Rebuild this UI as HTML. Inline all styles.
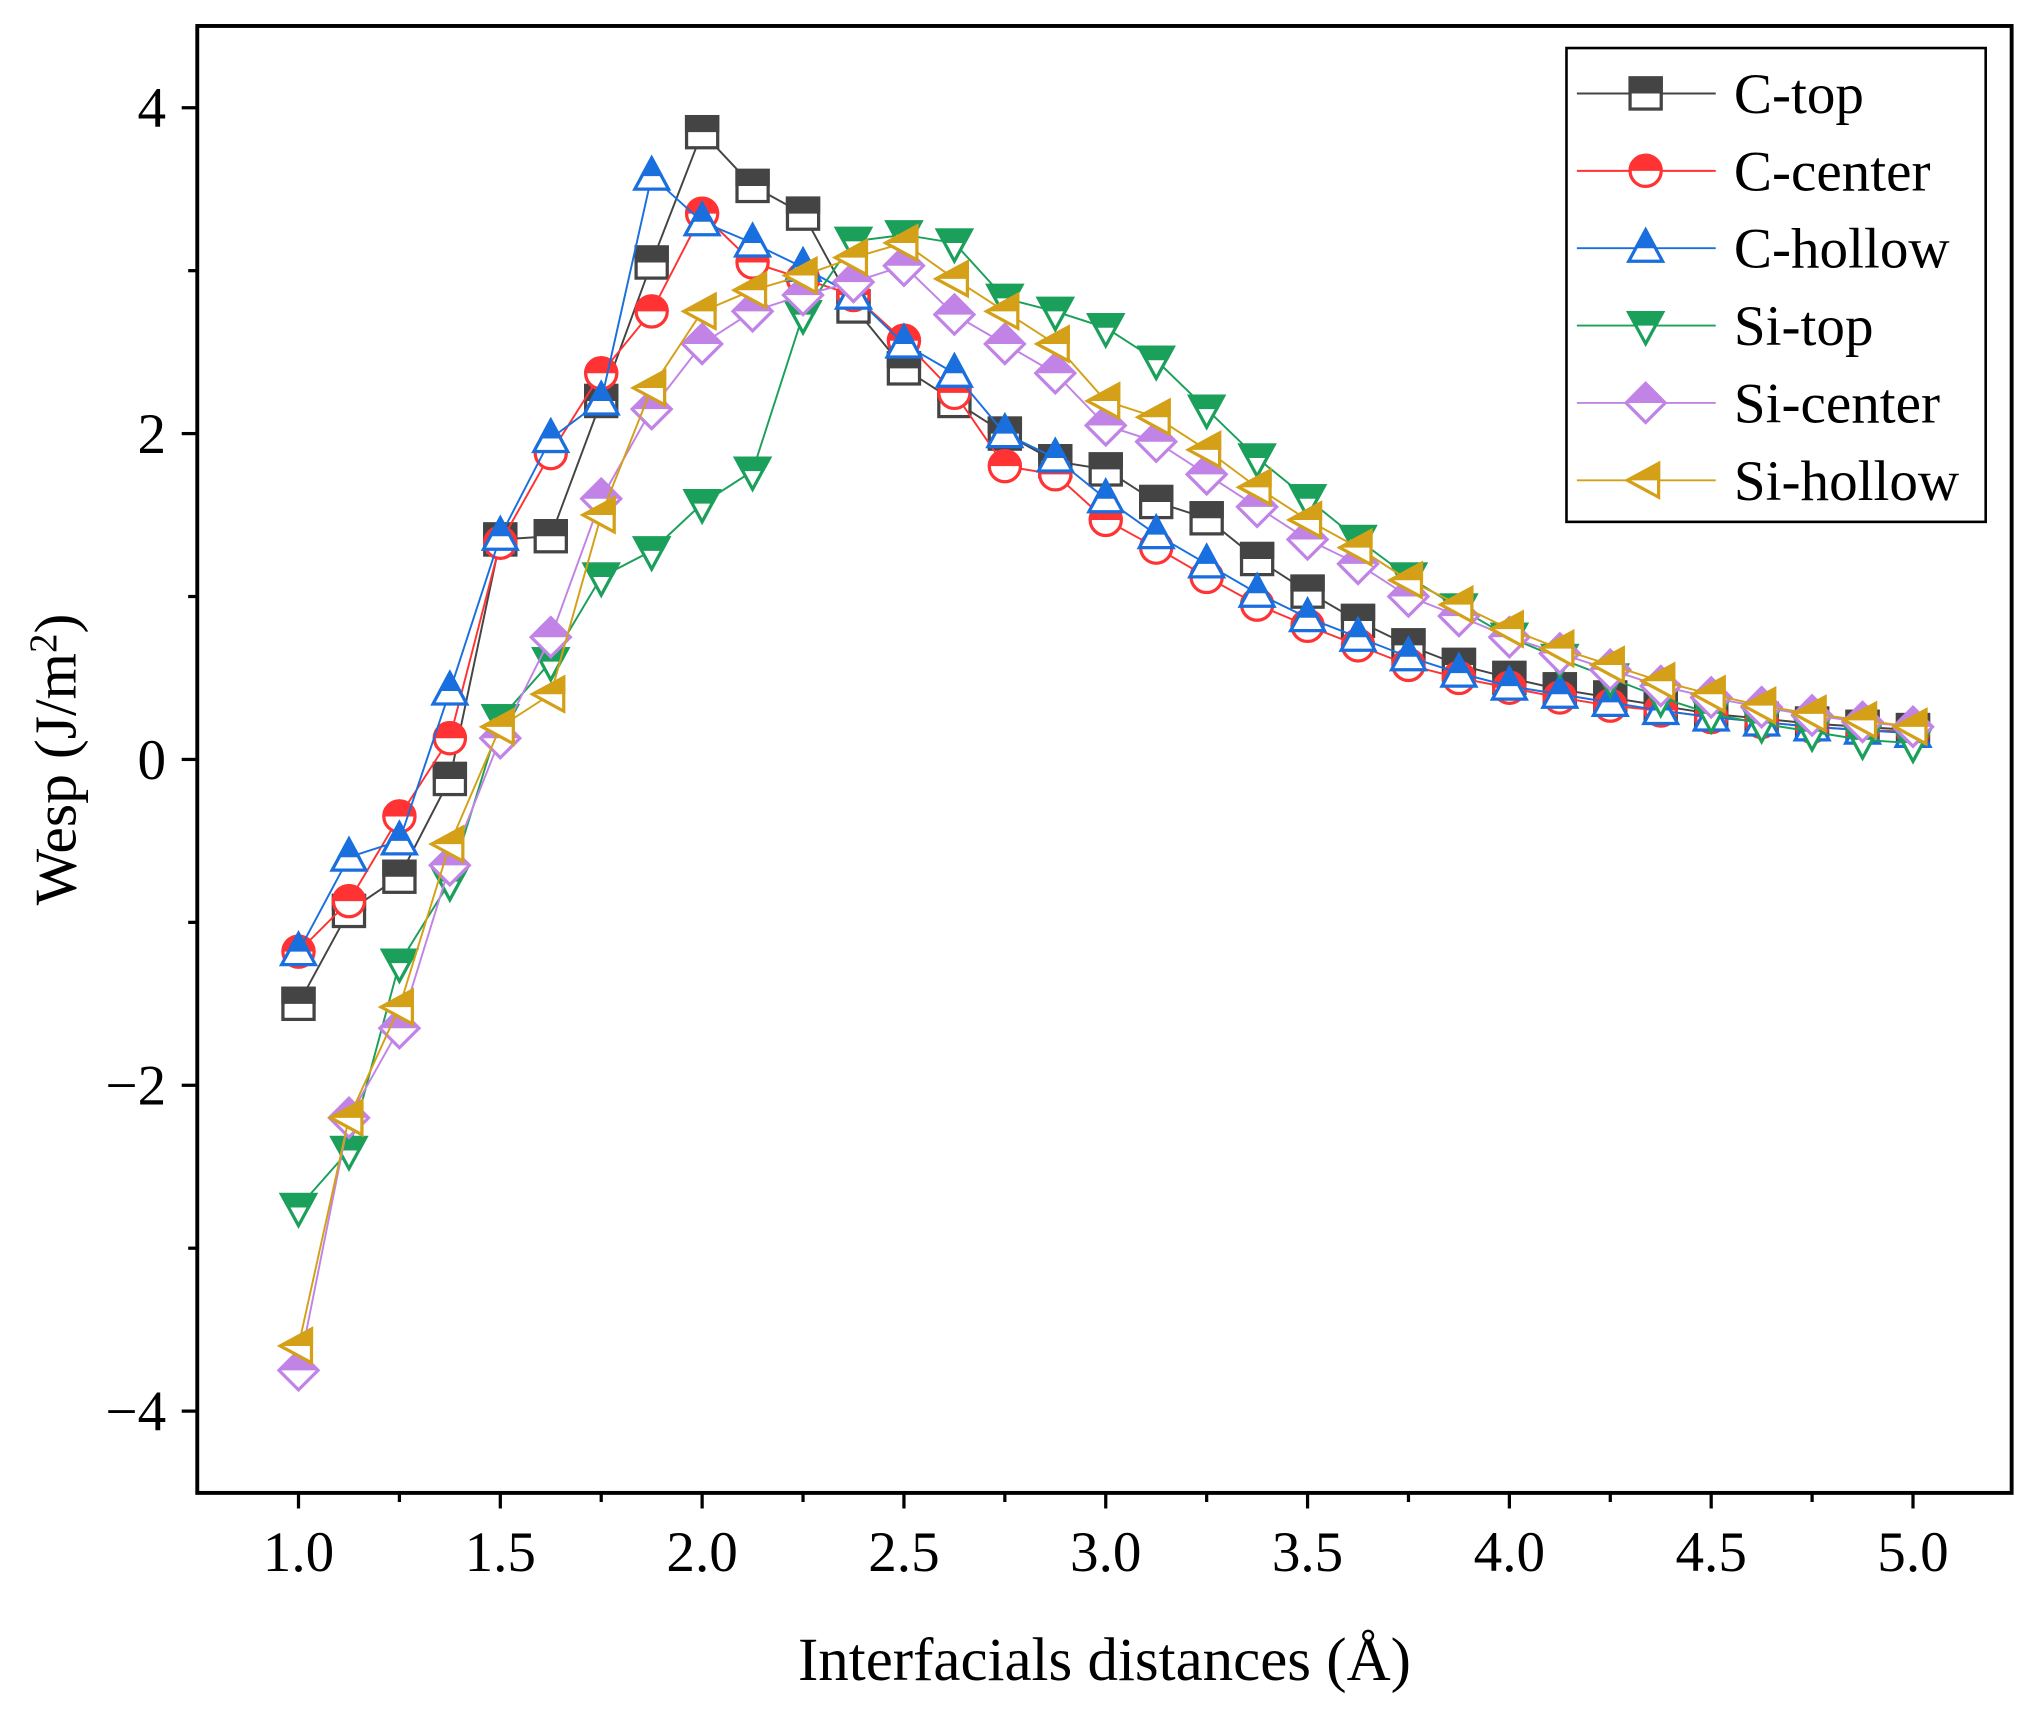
<!DOCTYPE html>
<html><head><meta charset="utf-8"><style>
html,body{margin:0;padding:0;background:#fff;}
svg{display:block;font-family:"Liberation Serif",serif;}
</style></head><body>
<svg id="chart" width="2035" height="1711" viewBox="0 0 1568 1318" preserveAspectRatio="none" xmlns="http://www.w3.org/2000/svg">
<defs><clipPath id="tophalf"><rect x="-20" y="-20" width="40" height="20"/></clipPath></defs>
<rect x="0" y="0" width="1568" height="1318" fill="#fff"/>
<g id="plot"></g>
<rect x="152" y="20" width="1398" height="1130" fill="none" stroke="#000" stroke-width="3"/>
<g id="axes"></g>
<text x="851" y="1294" font-size="47" text-anchor="middle">Interfacials distances (Å)</text>
<text transform="translate(58,585) rotate(-90)" font-size="46" text-anchor="middle">Wesp (J/m<tspan dy="-15" font-size="30">2</tspan><tspan dy="15">)</tspan></text>
<g id="legend">
<rect x="1207" y="37" width="323" height="365" fill="#fff" stroke="#000" stroke-width="2"/>
</g>
</svg>
<script>
const xs = [1.0,1.125,1.25,1.375,1.5,1.625,1.75,1.875,2.0,2.125,2.25,2.375,2.5,2.625,2.75,2.875,3.0,3.125,3.25,3.375,3.5,3.625,3.75,3.875,4.0,4.125,4.25,4.375,4.5,4.625,4.75,4.875,5.0];
const cTop = [-1.5,-0.93,-0.72,-0.12,1.35,1.37,2.2,3.05,3.85,3.52,3.35,2.78,2.4,2.2,2.0,1.83,1.78,1.58,1.48,1.23,1.03,0.85,0.7,0.58,0.5,0.43,0.38,0.33,0.28,0.25,0.22,0.2,0.18];
const cCenter = [-1.18,-0.87,-0.35,0.13,1.33,1.88,2.37,2.75,3.35,3.05,2.95,2.85,2.57,2.25,1.8,1.75,1.47,1.3,1.12,0.95,0.82,0.7,0.58,0.5,0.44,0.38,0.33,0.3,0.26,0.23,0.2,0.18,0.17];
const cHollow = [-1.18,-0.6,-0.5,0.42,1.37,1.97,2.2,3.58,3.3,3.17,3.02,2.85,2.55,2.37,2.0,1.85,1.6,1.38,1.2,1.02,0.87,0.75,0.63,0.53,0.45,0.4,0.35,0.3,0.26,0.23,0.2,0.18,0.16];
const siTop = [-2.75,-2.4,-1.25,-0.75,0.25,0.6,1.12,1.28,1.57,1.77,2.73,3.18,3.22,3.17,2.83,2.75,2.65,2.45,2.15,1.85,1.6,1.35,1.12,0.93,0.75,0.62,0.5,0.38,0.28,0.22,0.17,0.12,0.1];
const siCenter = [-3.75,-2.2,-1.65,-0.65,0.13,0.75,1.6,2.15,2.55,2.75,2.85,2.93,3.03,2.73,2.55,2.37,2.05,1.95,1.75,1.55,1.35,1.2,1.0,0.88,0.75,0.65,0.55,0.45,0.38,0.32,0.27,0.23,0.2];
const siHollow = [-3.6,-2.2,-1.52,-0.52,0.2,0.4,1.5,2.28,2.75,2.88,2.97,3.08,3.17,2.95,2.75,2.55,2.2,2.1,1.9,1.67,1.47,1.3,1.1,0.95,0.8,0.68,0.58,0.48,0.4,0.33,0.28,0.24,0.2];
const seriesNames = ["C-top","C-center","C-hollow","Si-top","Si-center","Si-hollow"];
const xTicks = [1.0,1.5,2.0,2.5,3.0,3.5,4.0,4.5,5.0];
const xTickLabels = ["1.0","1.5","2.0","2.5","3.0","3.5","4.0","4.5","5.0"];
const yTicks = [-4,-2,0,2,4];
const yTickLabels = ["\u22124","\u22122","0","2","4"];

const NS="http://www.w3.org/2000/svg";
const xS = v => 230 + (v-1)*311;
const yS = v => 585 - v*125.5;
function mk(tag, attrs, parent){const e=document.createElementNS(NS,tag);for(const k in attrs)e.setAttribute(k,attrs[k]);parent.appendChild(e);return e;}
const series=[
 {vals:cTop,color:"#444444",shape:"square"},
 {vals:cCenter,color:"#ff3333",shape:"circle"},
 {vals:cHollow,color:"#1a6fdf",shape:"up"},
 {vals:siTop,color:"#1aa05a",shape:"down"},
 {vals:siCenter,color:"#c184e6",shape:"diamond"},
 {vals:siHollow,color:"#d4a017",shape:"left"}
];
function shapeEl(shape,attrs,parent){
 const r=12;
 if(shape==="square") return mk("rect",Object.assign({x:-r,y:-r,width:2*r,height:2*r},attrs),parent);
 if(shape==="circle") return mk("circle",Object.assign({r:r},attrs),parent);
 let pts;
 if(shape==="up") pts=`0,-14 13,10 -13,10`;
 if(shape==="down") pts=`0,14 13,-10 -13,-10`;
 if(shape==="diamond") pts=`0,-15 15,0 0,15 -15,0`;
 if(shape==="left") pts=`-14,0 10,-13 10,13`;
 return mk("polygon",Object.assign({points:pts},attrs),parent);
}
function marker(parent,cx,cy,s){
 const g=mk("g",{transform:`translate(${cx},${cy})`},parent);
 shapeEl(s.shape,{fill:"#fff",stroke:s.color,"stroke-width":2.5},g);
 shapeEl(s.shape,{fill:s.color,stroke:s.color,"stroke-width":2.5,"clip-path":"url(#tophalf)"},g);
 return g;
}
const plot=document.getElementById("plot");
series.forEach((s,i)=>{
 const g=mk("g",{},plot);
 
 
 const line=mk("polyline",{points:xs.map((x,j)=>xS(x)+","+yS(s.vals[j])).join(" "),fill:"none",stroke:s.color,"stroke-width":1.5},g);
 
 
 xs.forEach((x,j)=>{
  const m=marker(g,xS(x),yS(s.vals[j]),s);
  
  
 });
});
const axes=document.getElementById("axes");
for(let v=1;v<=5.0001;v+=0.25){
 const major=Math.abs(v*2-Math.round(v*2))<1e-6;
 const t=mk("line",{x1:xS(v),x2:xS(v),y1:1150,y2:major?1162:1157,stroke:"#000","stroke-width":2.5},axes);
 
 
}
xTicks.forEach((v,i)=>{
 const t=mk("text",{x:xS(v),y:1210,"font-size":44,"text-anchor":"middle"},axes);
 t.textContent=xTickLabels[i];
 
 
});
for(let v=-4;v<=4;v+=1){
 const major=v%2===0;
 const t=mk("line",{x1:152,x2:major?140:145,y1:yS(v),y2:yS(v),stroke:"#000","stroke-width":2.5},axes);
 
 
}
yTicks.forEach((v,i)=>{
 const t=mk("text",{x:128,y:yS(v)+15,"font-size":44,"text-anchor":"end"},axes);
 t.textContent=yTickLabels[i];
 
 
});
const legend=document.getElementById("legend");
series.forEach((s,i)=>{
 const y=72+i*59.6;
 const g=mk("g",{},legend);
 
 
 mk("line",{x1:1215,x2:1322,y1:y,y2:y,stroke:s.color,"stroke-width":1.5},g);
 marker(g,1268,y,s);
 const t=mk("text",{x:1336,y:y+15,"font-size":44},g);
 t.textContent=seriesNames[i];
});
</script>
</body></html>
